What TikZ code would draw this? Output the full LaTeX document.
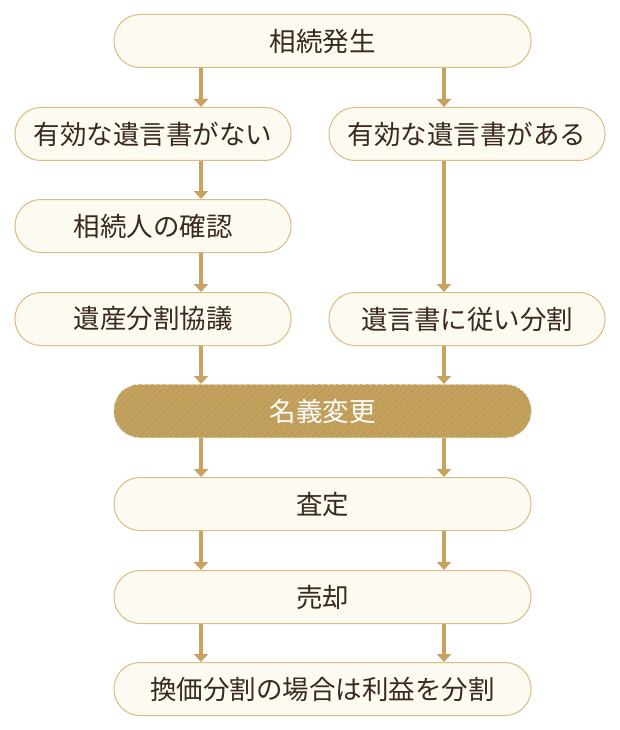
\documentclass[tikz,border=0pt]{standalone}
\usepackage{fontspec}
\setmainfont{Noto Sans CJK JP}
\usetikzlibrary{patterns,patterns.meta,arrows.meta}
\definecolor{boxfill}{HTML}{FDFAF1}
\definecolor{boxline}{HTML}{D9BC82}
\definecolor{txt}{HTML}{3A2A1C}
\definecolor{arrowc}{HTML}{C9A160}
\definecolor{goldfill}{HTML}{BF9C58}
\definecolor{goldstripe}{HTML}{C7A665}
\tikzset{
  box/.style={draw=boxline, line width=1pt, fill=boxfill, rounded corners=26pt,
    text=txt, font=\fontsize{26.5}{26.5}\selectfont, inner sep=0pt, minimum height=53pt},
  wide/.style={box, minimum width=417pt},
  half/.style={box, minimum width=276pt},
  arr/.style={draw=arrowc, line width=4.5pt, -{Triangle[width=14pt,length=8pt]}},
}
\begin{document}
\begin{tikzpicture}[x=1pt,y=-1pt]
\useasboundingbox (0,0) rectangle (620,730);
\coordinate (cl) at (201,0);
\coordinate (cr) at (444,0);
\node[wide] (top) at (322.5,41) {相続発生};
\node[half] (l2) at (153,134) {有効な遺言書がない};
\node[half] (r2) at (467,134) {有効な遺言書がある};
\node[half] (l3) at (153,226) {相続人の確認};
\node[half] (l4) at (153,319) {遺産分割協議};
\node[half] (r4) at (467,319) {遺言書に従い分割};
\node[wide, draw=none, fill=goldfill, text=white] (mei) at (322.5,411) {};
\fill[pattern={Lines[angle=45,distance=4pt,line width=1.4pt]}, pattern color=goldstripe, rounded corners=26pt]
  (mei.south west) rectangle (mei.north east);
\node[text=white, font=\fontsize{26.5}{26.5}\selectfont] (meit) at (mei.center) {名義変更};
\node[wide] (sa) at (322.5,504) {査定};
\node[wide] (bai) at (322.5,597) {売却};
\node[wide] (last) at (322.5,689) {換価分割の場合は利益を分割};
\draw[arr] (top.south -| cl) -- (l2.north -| cl);
\draw[arr] (top.south -| cr) -- (r2.north -| cr);
\draw[arr] (l2.south -| cl) -- (l3.north -| cl);
\draw[arr] (l3.south -| cl) -- (l4.north -| cl);
\draw[arr] (r2.south -| cr) -- (r4.north -| cr);
\draw[arr] (l4.south -| cl) -- (mei.north -| cl);
\draw[arr] (r4.south -| cr) -- (mei.north -| cr);
\draw[arr] (mei.south -| cl) -- (sa.north -| cl);
\draw[arr] (mei.south -| cr) -- (sa.north -| cr);
\draw[arr] (sa.south -| cl) -- (bai.north -| cl);
\draw[arr] (sa.south -| cr) -- (bai.north -| cr);
\draw[arr] (bai.south -| cl) -- (last.north -| cl);
\draw[arr] (bai.south -| cr) -- (last.north -| cr);
\end{tikzpicture}
\end{document}
